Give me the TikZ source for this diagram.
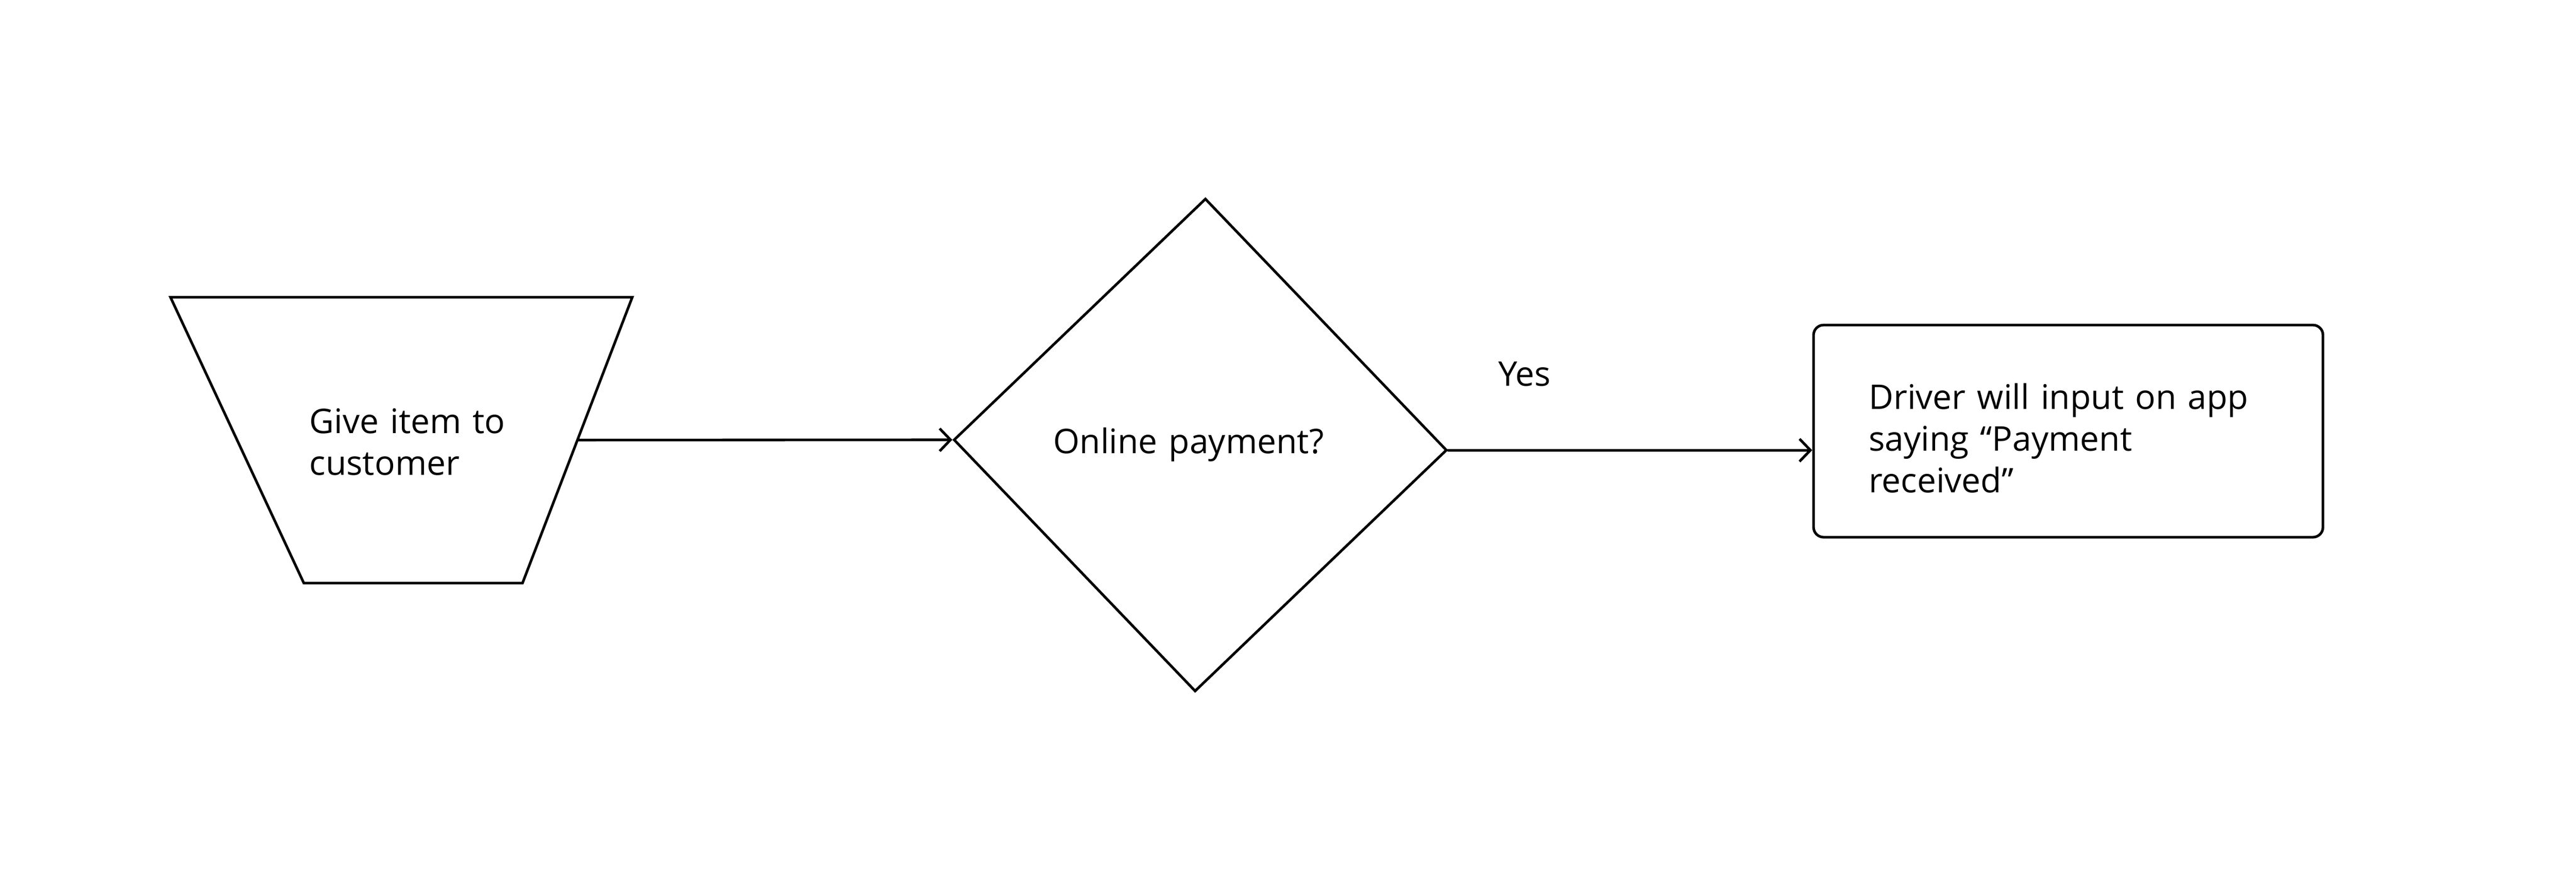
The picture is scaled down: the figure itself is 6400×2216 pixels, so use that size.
\documentclass[tikz,border=0pt]{standalone}
\usepackage{fontspec}
\setmainfont{Open Sans}
\usetikzlibrary{shapes.geometric,arrows.meta}

\begin{document}
\begin{tikzpicture}[x=0.01cm, y=-0.01cm, line width=1.85pt,
  every node/.style = {align=left, inner sep=0pt,
    font=\fontsize{24}{29.5}\selectfont},
  manual/.style = {draw, shape=trapezium, shape border rotate=180,
    trapezium left angle=69, trapezium right angle=65,
    inner xsep=0.14cm, text width=5.15cm,
    text height=3.38cm, text depth=3.72cm},
  decision/.style = {draw, shape=diamond, rotate=-1.2, text width=7.32cm,
    minimum width=12.25cm, minimum height=12.25cm},
  process/.style = {draw, rectangle, rounded corners=0.25cm,
    minimum width=12.65cm, text width=9.91cm,
    text height=2.09cm, text depth=3.18cm},
  flow/.style = {-{Straight Barb[length=0.27cm, width=0.56cm]},
    line cap=round, line join=round}]]
  \useasboundingbox (0,0) rectangle (6400,2216);

  \node[manual] (give) at (1026.5,1094) {Give item to\\customer};
  \node[decision] (online) at (2982,1106) {\rotatebox{1.2}{Online payment?}};
  \node[process] (driver) at (5138.5,1071.5)
    {Driver will input on app\\saying “Payment\\received”};

  \draw[flow] (give) -- (online.west);
  \draw[flow] (online.east) -- (online.east -| driver.west)
    node[pos=0.21, above=1.56cm] {Yes};

\end{tikzpicture}
\end{document}
